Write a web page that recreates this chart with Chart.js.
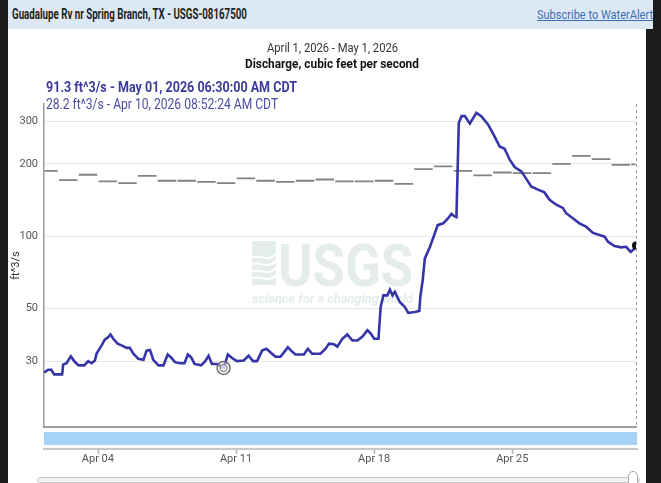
<!DOCTYPE html>
<html>
<head>
<meta charset="utf-8">
<title>Guadalupe Rv nr Spring Branch, TX - USGS-08167500</title>
<script src="https://cdn.jsdelivr.net/npm/chart.js@4.4.1/dist/chart.umd.min.js"></script>
<style>
html, body { margin: 0; padding: 0; width: 661px; height: 483px; overflow: hidden; background: #1c1c1c; }
body { position: relative; font-family: Roboto, "Noto Sans", sans-serif; }
#panel { position: absolute; left: 8px; top: 0; width: 638px; height: 483px; background: #fff; }
#header { position: absolute; left: 8px; top: 0; width: 645px; height: 29px; background: #dce8f4; overflow: hidden; }
#site { position: absolute; left: 4px; top: 6px; font-size: 14px; font-weight: bold; color: #222; white-space: nowrap; }
#alert { position: absolute; left: 529px; top: 6px; font-size: 13.5px; color: #3d71b5; text-decoration: underline; white-space: nowrap; }
#chartBox { position: absolute; left: 0; top: 0; width: 661px; height: 483px; }
.fit { position: absolute; white-space: nowrap; transform-origin: 0 0; }
#t1 { left: 267px; top: 40px; font-size: 12.5px; color: #333; }
#t2 { left: 245px; top: 56px; font-size: 12.5px; font-weight: bold; color: #111; }
#l1 { left: 46px; top: 79px; font-size: 14.5px; font-weight: bold; color: #3a3a9e; }
#l2 { left: 46px; top: 96px; font-size: 14px; color: #4c4ca6; }
#track { position: absolute; left: 37px; top: 477px; width: 601px; height: 4px; border: 1px solid #c8c8c8; border-radius: 3px; background: #f1f1f1; }
#knob { position: absolute; left: 628px; top: 471px; width: 8px; height: 12px; border: 1px solid #a8a8a8; border-radius: 5px 5px 2px 2px; background: #fff; }
</style>
</head>
<body>
<div id="panel"></div>
<div id="header">
  <div class="fit" id="site" data-w="235">Guadalupe Rv nr Spring Branch, TX - USGS-08167500</div>
  <div class="fit" id="alert" data-w="116">Subscribe to WaterAlert</div>
</div>
<div id="chartBox"><canvas id="flowChart" width="661" height="483"></canvas></div>
<div class="fit" id="t1" data-w="131">April 1, 2026 - May 1, 2026</div>
<div class="fit" id="t2" data-w="174">Discharge, cubic feet per second</div>
<div class="fit" id="l1" data-w="251">91.3 ft^3/s - May 01, 2026 06:30:00 AM CDT</div>
<div class="fit" id="l2" data-w="232">28.2 ft^3/s - Apr 10, 2026 08:52:24 AM CDT</div>
<div id="track"></div>
<div id="knob"></div>
<script>
// squeeze the html labels to the narrow widths of the original page
document.querySelectorAll('.fit').forEach(el => {
  const w = el.getBoundingClientRect().width;
  el.style.transform = 'scaleX(' + (Number(el.dataset.w) / w).toFixed(3) + ')';
});

// time is in days since Apr 1, 2026 00:00 CDT
const rangeStart = 0.27;
const rangeEnd = 30.27;

const flowDays = [
  0.27, 0.48, 0.64, 0.78, 1.19, 1.24, 1.41, 1.63, 1.83, 2.03, 2.31, 2.51, 2.68, 2.85, 2.93,
  3.19, 3.35, 3.53, 3.64, 3.78, 4.00, 4.20, 4.46, 4.62, 4.80, 5.05, 5.31, 5.47, 5.64, 5.81,
  6.07, 6.32, 6.54, 6.74, 6.91, 7.17, 7.39, 7.56, 7.73, 7.90, 8.23, 8.44, 8.61, 8.78, 9.03,
  9.37, 9.59, 9.80, 10.05, 10.39, 10.64, 10.86, 11.07, 11.32, 11.54, 11.74, 12.00, 12.25, 12.50, 12.63,
  12.79, 13.01, 13.44, 13.64, 13.86, 14.28, 14.54, 14.71, 14.96, 15.13, 15.39, 15.64, 15.90, 16.15, 16.41,
  16.66, 16.83, 17.00, 17.22, 17.33, 17.47, 17.67, 17.80, 17.93, 18.05, 18.30, 18.56, 18.73, 19.06, 19.29,
  19.34, 19.46, 19.57, 19.83, 20.08, 20.22, 20.50, 20.75, 20.92, 21.06, 21.17, 21.29, 21.43, 21.60, 21.85,
  22.18, 22.43, 22.78, 23.10, 23.36, 23.61, 23.87, 24.12, 24.46, 24.71, 24.96, 25.30, 25.63, 25.89, 26.23,
  26.56, 26.73, 27.07, 27.40, 27.74, 28.09, 28.42, 28.68, 28.85, 29.18, 29.52, 29.77, 30.00, 30.15, 30.27
];
const flowCfs = [
  27.0, 27.7, 27.7, 26.5, 26.5, 29.1, 29.5, 31.5, 29.9, 28.9, 28.9, 30.1, 29.5, 30.3, 32.3,
  35.0, 37.0, 37.9, 38.9, 37.3, 35.6, 35.0, 34.2, 34.2, 32.3, 30.8, 30.5, 33.3, 33.5, 30.5,
  28.9, 28.9, 32.1, 31.0, 29.8, 29.5, 29.5, 32.1, 31.2, 29.3, 28.9, 30.1, 31.7, 29.3, 29.3,
  28.2, 32.1, 31.0, 30.1, 30.3, 31.7, 30.1, 30.1, 33.3, 33.9, 32.8, 31.4, 31.4, 33.3, 34.4,
  33.3, 32.1, 32.1, 33.9, 32.3, 32.3, 33.9, 35.6, 35.4, 34.6, 37.3, 38.9, 36.7, 36.7, 38.1,
  40.5, 39.2, 37.3, 37.3, 50.6, 56.6, 56.6, 59.8, 56.6, 58.5, 53.1, 50.6, 47.8, 48.2, 48.7,
  55.7, 65.5, 80.7, 90.2, 103, 111, 113, 118.6, 123.6, 121, 120, 296, 316, 316, 294,
  326, 316, 291, 260, 236, 231, 208, 194, 186, 173, 161, 156, 152, 141.5, 135,
  131, 124.5, 118.6, 113, 109.4, 103, 101, 99.4, 94.7, 90.8, 89.7, 90.2, 85.9, 87.9, 91.3
];

// daily median of daily mean discharge, Apr 1 .. May 1
const medianDayStart = [0.27, 1, 2, 3, 4, 5, 6, 7, 8, 9, 10, 11, 12, 13, 14, 15,
  16, 17, 18, 19, 20, 21, 22, 23, 24, 25, 26, 27, 28, 29, 30];
const medianCfs = [187, 171, 180, 169, 166, 178, 170, 170, 168, 166, 174, 170, 168, 170, 172, 169,
  169, 170, 165, 190, 195, 187, 179, 184, 183, 183, 200, 216, 209, 198, 199];

const minDay = 9.37, minCfs = 28.2;
const yTicks = [30, 50, 100, 200, 300];
const xTickDays = [3, 10, 17, 24];
const xTickLabels = ['Apr 04', 'Apr 11', 'Apr 18', 'Apr 25'];

const FONT = 'Roboto, "Noto Sans", sans-serif';

const flowPts = flowDays.map((d, i) => ({ x: d, y: flowCfs[i] }));
const medianPts = [];
medianDayStart.forEach((d, i) => {
  const end = i + 1 < medianDayStart.length ? medianDayStart[i + 1] : rangeEnd;
  medianPts.push({ x: d + 0.03, y: medianCfs[i] });
  medianPts.push({ x: end - 0.03, y: medianCfs[i] });
  medianPts.push({ x: end, y: null });
});

// extras: watermark, navigator bar, lower axis, right dashed edge
const extras = {
  id: 'extras',
  beforeDatasetsDraw(chart) {
    const ctx = chart.ctx;
    ctx.save();
    ctx.fillStyle = '#e5edeb';
    ctx.fillRect(252, 241, 24, 44);
    ctx.strokeStyle = '#ffffff';
    ctx.lineWidth = 2;
    for (let k = 0; k < 4; k++) {
      ctx.beginPath();
      ctx.moveTo(252, 258 + k * 7);
      ctx.bezierCurveTo(258, 252 + k * 7, 266, 264 + k * 7, 276, 254 + k * 7);
      ctx.stroke();
    }
    ctx.fillStyle = '#e5edeb';
    ctx.font = 'bold 60px ' + FONT;
    ctx.textBaseline = 'alphabetic';
    ctx.fillText('USGS', 278, 286, 135);
    ctx.font = 'italic bold 13px ' + FONT;
    ctx.fillText('science for a changing world', 252, 303, 161);
    ctx.restore();
  },
  afterDraw(chart) {
    const { ctx, chartArea } = chart;
    const xs = chart.scales.x;
    ctx.save();
    ctx.fillStyle = '#a5d2f6';
    ctx.fillRect(chartArea.left, chartArea.bottom + 5, chartArea.right - chartArea.left + 1, 13);
    ctx.strokeStyle = '#b5b5b5';
    ctx.lineWidth = 1.5;
    ctx.beginPath();
    ctx.moveTo(chartArea.left - 1, chartArea.bottom + 22);
    ctx.lineTo(chartArea.right + 2, chartArea.bottom + 22);
    xTickDays.forEach(d => {
      const px = Math.round(xs.getPixelForValue(d)) + 0.5;
      ctx.moveTo(px, chartArea.bottom + 22);
      ctx.lineTo(px, chartArea.bottom + 27);
    });
    ctx.stroke();
    ctx.strokeStyle = '#9a9a9a';
    ctx.lineWidth = 1;
    ctx.setLineDash([3, 3]);
    ctx.beginPath();
    ctx.moveTo(chartArea.right + 0.5, chartArea.top);
    ctx.lineTo(chartArea.right + 0.5, chartArea.bottom);
    ctx.stroke();
    ctx.restore();
  }
};

new Chart(document.getElementById('flowChart'), {
  type: 'line',
  data: {
    datasets: [
      {
        label: 'min',
        data: [{ x: minDay, y: minCfs }],
        showLine: false,
        pointRadius: 6.5,
        pointBorderWidth: 1.5,
        pointBorderColor: '#6e6e6e',
        pointBackgroundColor: 'rgba(255,255,255,0.4)',
        order: 0
      },
      {
        label: 'min inner',
        data: [{ x: minDay, y: minCfs }],
        showLine: false,
        pointRadius: 3.5,
        pointBorderWidth: 1.5,
        pointBorderColor: '#555',
        pointBackgroundColor: 'rgba(255,255,255,0.6)',
        order: 0
      },
      {
        label: 'latest',
        data: [flowPts[flowPts.length - 1]],
        showLine: false,
        pointRadius: 4,
        pointBorderWidth: 0,
        pointBackgroundColor: '#111',
        order: 0
      },
      {
        label: 'Discharge',
        data: flowPts,
        borderColor: '#3535a8',
        borderWidth: 2.6,
        pointRadius: 0,
        tension: 0,
        order: 1
      },
      {
        label: 'Median',
        data: medianPts,
        borderColor: '#828282',
        borderWidth: 1.8,
        pointRadius: 0,
        spanGaps: false,
        order: 2
      }
    ]
  },
  options: {
    responsive: false,
    devicePixelRatio: 1,
    animation: false,
    layout: { padding: { left: 0, right: 25, top: 104, bottom: 0 } },
    plugins: { legend: { display: false }, tooltip: { enabled: false } },
    scales: {
      x: {
        type: 'linear',
        min: rangeStart,
        max: rangeEnd,
        afterBuildTicks: s => { s.ticks = xTickDays.map(v => ({ value: v })); },
        afterFit: s => { s.height = 56; },
        grid: { drawOnChartArea: false, drawTicks: false },
        border: { color: '#9e9e9e', width: 2 },
        ticks: {
          padding: 26,
          color: '#555',
          font: { family: FONT, size: 11 },
          maxRotation: 0,
          callback: v => xTickLabels[xTickDays.indexOf(v)]
        }
      },
      y: {
        type: 'logarithmic',
        min: 16,
        max: 355,
        afterBuildTicks: s => { s.ticks = yTicks.map(v => ({ value: v })); },
        afterFit: s => { s.width = 44; },
        grid: { color: '#e6e6e6', drawTicks: false },
        border: { color: '#9a9a9a', width: 1.5 },
        ticks: {
          padding: 6,
          color: '#555',
          font: { family: FONT, size: 11 },
          callback: v => String(v)
        },
        title: {
          display: true,
          text: 'ft^3/s',
          color: '#333',
          font: { family: FONT, size: 11 },
          padding: { top: 10, bottom: 0 }
        }
      }
    }
  },
  plugins: [extras]
});
</script>
</body>
</html>
